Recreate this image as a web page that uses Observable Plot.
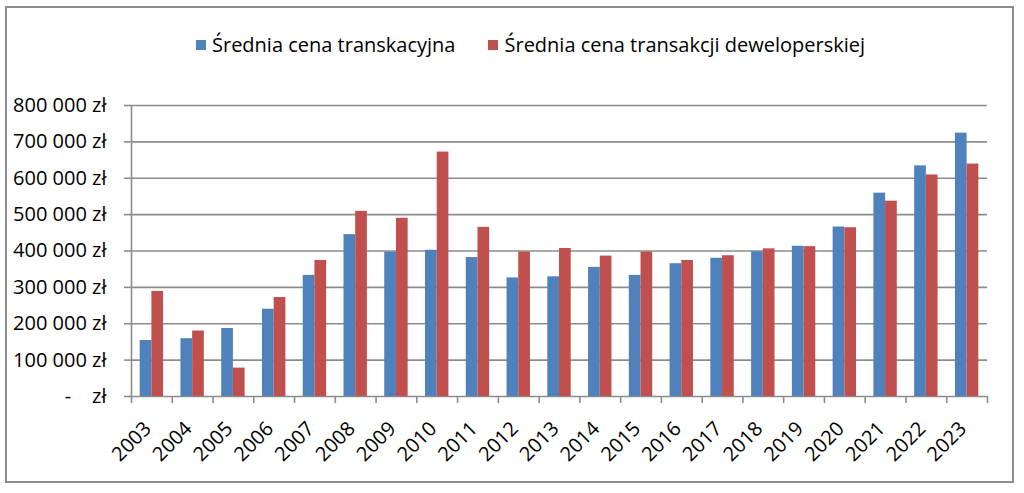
<!DOCTYPE html>
<html>
<head>
<meta charset="utf-8">
<script src="https://cdn.jsdelivr.net/npm/d3@7"></script>
<script src="https://cdn.jsdelivr.net/npm/@observablehq/plot@0.6"></script>
<style>
  html, body { margin: 0; padding: 0; background: #fff; }
  #wrap { position: relative; width: 1024px; height: 493px; overflow: hidden; font-family: "Open Sans", sans-serif; }
  #border { position: absolute; left: 5px; top: 6px; width: 1009px; height: 477px; border: 2px solid #8c8c8c; box-sizing: border-box; }
  #legend { position: absolute; top: 31px; left: 196px; display: flex; align-items: center; font-size: 20px; color: #000; white-space: nowrap; }
  .item { display: flex; align-items: center; margin-right: 33px; }
  .sw { width: 10px; height: 10px; margin-right: 6px; }
  #chart { position: absolute; left: 0; top: 0; }
</style>
</head>
<body>
<div id="wrap">
  <div id="border"></div>
  <div id="legend"></div>
  <div id="chart"></div>
</div>
<script>
const years = [2003, 2004, 2005, 2006, 2007, 2008, 2009, 2010, 2011, 2012, 2013, 2014, 2015, 2016, 2017, 2018, 2019, 2020, 2021, 2022, 2023];
const avgTransaction = [154000, 159000, 187000, 240000, 333000, 445000, 397000, 402000, 382000, 326000, 329000, 355000, 333000, 365000, 380000, 398000, 413000, 466000, 559000, 634000, 724000];
const avgDeveloper = [289000, 180000, 78000, 272000, 374000, 509000, 490000, 672000, 465000, 397000, 407000, 386000, 397000, 374000, 387000, 406000, 412000, 464000, 537000, 609000, 639000];
const seriesNames = ["Średnia cena transkacyjna", "Średnia cena transakcji deweloperskiej"];
const seriesColors = ["#4F81BD", "#C0504D"];
const yTicks = [0, 100000, 200000, 300000, 400000, 500000, 600000, 700000, 800000];

const data = years.map((year, i) => ({year, transaction: avgTransaction[i], developer: avgDeveloper[i]}));
const boundaries = [...years.map(y => y - 0.5), years[years.length - 1] + 0.5];
const half = 0.287;
const fmt = d => d === 0 ? "-\u00a0\u00a0\u00a0\u00a0zł" : d3.format(",")(d).replace(/,/g, "\u00a0") + "\u00a0zł";

const legend = document.getElementById("legend");
seriesNames.forEach((name, i) => {
  const it = document.createElement("div");
  it.className = "item";
  it.innerHTML = `<span class="sw" style="background:${seriesColors[i]}"></span><span>${name}</span>`;
  legend.appendChild(it);
});

const chart = Plot.plot({
  width: 1024,
  height: 493,
  marginLeft: 131,
  marginRight: 37,
  marginTop: 105,
  marginBottom: 97,
  style: {fontFamily: "'Open Sans', sans-serif", fontSize: "20px", color: "#000", background: "transparent", overflow: "visible"},
  x: {domain: [years[0] - 0.5, years[years.length - 1] + 0.5], axis: null},
  y: {domain: [0, 800000], axis: null},
  marks: [
    Plot.ruleY(yTicks, {stroke: "#8c8c8c", strokeWidth: 1.6}),
    Plot.rectY(data, {x1: d => d.year - half, x2: d => d.year, y: "transaction", fill: seriesColors[0]}),
    Plot.rectY(data, {x1: d => d.year, x2: d => d.year + half, y: "developer", fill: seriesColors[1]}),
    Plot.ruleX([years[0] - 0.5], {stroke: "#8c8c8c", strokeWidth: 1.6}),
    Plot.axisY({ticks: yTicks, tickFormat: fmt, tickSize: 7, tickPadding: 18, stroke: "#8c8c8c", fill: "#000", strokeWidth: 1.6, fontSize: 20}),
    Plot.axisX({ticks: boundaries, tickFormat: () => "", tickSize: 7, stroke: "#8c8c8c", strokeWidth: 1.6}),
    Plot.axisX({ticks: years, tickFormat: d => String(d), tickSize: 0, tickPadding: 20, dx: -4, dy: 9, tickRotate: -45, fill: "#000", fontSize: 20})
  ]
});
document.getElementById("chart").appendChild(chart);
</script>
</body>
</html>
